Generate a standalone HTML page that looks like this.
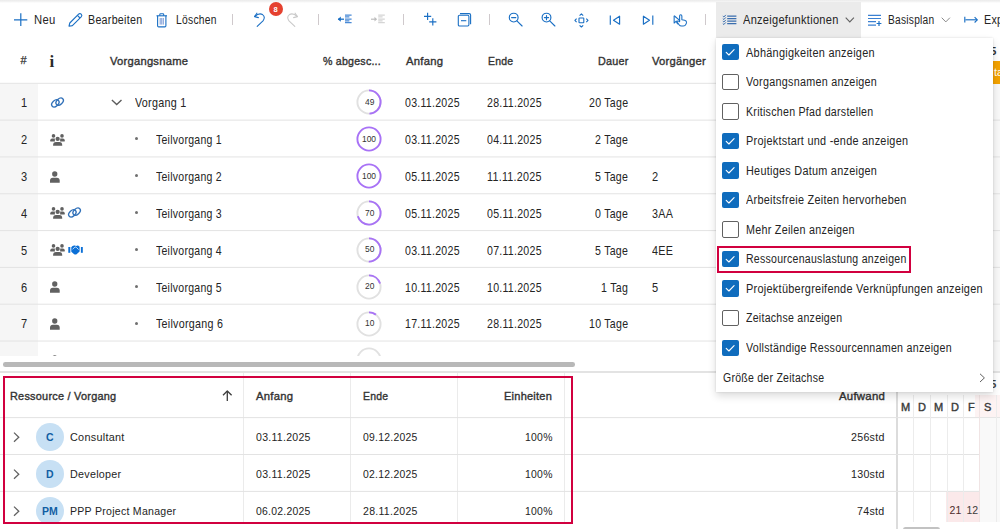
<!DOCTYPE html>
<html><head><meta charset="utf-8">
<style>
*{box-sizing:border-box;margin:0;padding:0}
html,body{width:1000px;height:529px;overflow:hidden;background:#fff}
body{position:relative;font-family:"Liberation Sans",sans-serif;color:#242424;font-size:11px}
.a{position:absolute}
.t{position:absolute;white-space:nowrap}
svg{position:absolute;overflow:visible}
</style></head><body>
<div class="a" style="left:0;top:0;width:1000px;height:3px;background:linear-gradient(#ebebeb,#f4f4f4 55%,#fff)"></div>
<svg style="left:14px;top:13px;" width="14" height="14" viewBox="0 0 14 14"><path d="M0 6.8H13.3M6.8 0.2V13" stroke="#1a6fc4" stroke-width="1.2" fill="none"/></svg>
<div class="t" style="top:11.71px;font-size:12px;line-height:16px;letter-spacing:0.3px;transform:scaleX(0.9375);transform-origin:0 0;left:34.10px;">Neu</div>
<svg style="left:68px;top:12.5px;" width="15" height="15" viewBox="0 0 15 15"><g fill="none" stroke="#1a6fc4" stroke-width="1.1" stroke-linejoin="round"><path d="M1 13.2L1.8 10 10.6 1.2A1.8 1.8 0 0 1 13.2 3.8L4.4 12.6Z"/><path d="M9.4 2.4L12 5"/></g></svg>
<div class="t" style="top:11.71px;font-size:12px;line-height:16px;letter-spacing:0.3px;transform:scaleX(0.8907);transform-origin:0 0;left:88.00px;">Bearbeiten</div>
<svg style="left:156px;top:12.5px;" width="12" height="15" viewBox="0 0 12 15"><g fill="none" stroke="#1a6fc4" stroke-width="1.1" stroke-linejoin="round"><path d="M0.5 2.8H11"/><path d="M3.8 2.8V1.6Q3.8 0.8 4.6 0.8H6.9Q7.7 0.8 7.7 1.6V2.8"/><path d="M1.6 2.8V12.8Q1.6 13.9 2.7 13.9H8.8Q9.9 13.9 9.9 12.8V2.8"/></g><g stroke="#6d8fd0" stroke-width="0.9"><path d="M4.2 5V11.6M5.75 5V11.6M7.3 5V11.6"/></g></svg>
<div class="t" style="top:11.71px;font-size:12px;line-height:16px;letter-spacing:0.3px;transform:scaleX(0.8587);transform-origin:0 0;left:176.00px;">Löschen</div>
<div class="a" style="left:232px;top:13.8px;width:1px;height:11.4px;background:#cfc9cc;"></div>
<div class="a" style="left:318px;top:13.8px;width:1px;height:11.4px;background:#cfc9cc;"></div>
<div class="a" style="left:403px;top:13.8px;width:1px;height:11.4px;background:#cfc9cc;"></div>
<div class="a" style="left:489px;top:13.8px;width:1px;height:11.4px;background:#cfc9cc;"></div>
<div class="a" style="left:705px;top:13.8px;width:1px;height:11.4px;background:#cfc9cc;"></div>
<svg style="left:253px;top:12px;" width="14" height="15" viewBox="0 0 14 15"><g fill="none" stroke="#1a6fc4" stroke-width="1.1" stroke-linecap="round" stroke-linejoin="round"><path d="M1.6 4.6L3.9 1.2M1.6 4.6L5.4 5.6"/><path d="M1.8 4.5Q6 0.6 9.5 2.6Q12.8 5 10 8.8L4.2 14.4"/></g></svg>
<div class="a" style="left:268.9px;top:1.8px;width:14px;height:14px;border-radius:50%;background:#e5412f"></div>
<div class="t" style="top:2.21px;font-size:7.5px;line-height:16px;font-weight:bold;color:#fff;left:273.60px;">8</div>
<svg style="left:285px;top:12px;" width="14" height="15" viewBox="0 0 14 15"><g fill="none" stroke="#c9c9c9" stroke-width="1.1" stroke-linecap="round" stroke-linejoin="round"><path d="M12.4 4.6L10.1 1.2M12.4 4.6L8.6 5.6"/><path d="M12.2 4.5Q8 0.6 4.5 2.6Q1.2 5 4 8.8L9.8 14.4"/></g></svg>
<svg style="left:337px;top:14px;" width="16" height="10" viewBox="0 0 16 10"><path d="M1 5.2H7" stroke="#1a6fc4" stroke-width="1.3"/><path d="M0.8 5.2L3.8 2.6V7.8Z" fill="#1a6fc4"/><g stroke="#4a8ad6" stroke-width="1.3"><path d="M8 1.2H14.6M8 2.8H12.4M8 5.2H14.6M8 6.9H12.4M8 8.6H14.6"/></g></svg>
<svg style="left:369.5px;top:14px;" width="16" height="10" viewBox="0 0 16 10"><path d="M1 5.2H6.3" stroke="#bdbdbd" stroke-width="1.2"/><path d="M7 5.2L4.5 2.8V7.6Z" fill="#bdbdbd"/><g stroke="#d5d5d5" stroke-width="1.3"><path d="M8.2 1.2H14.8M8.2 2.8H12.6M8.2 5.2H14.8M8.2 6.9H12.6M8.2 8.6H14.8"/></g></svg>
<svg style="left:423px;top:12px;" width="15" height="14" viewBox="0 0 15 14"><g stroke="#1a6fc4" stroke-width="1.15"><path d="M1 4.4H8.2M4.6 0.8V8"/><path d="M6.2 9.8H13.4M9.8 6.2V13.4"/></g></svg>
<svg style="left:456.5px;top:12.5px;" width="15" height="14" viewBox="0 0 15 14"><g fill="none" stroke="#1a6fc4" stroke-width="1.1"><rect x="1.3" y="2.2" width="10.6" height="10.8" rx="1.2"/><path d="M3 0.6H12.2Q13.6 0.6 13.6 2V11.2"/><path d="M4 7.7H9.3"/></g></svg>
<svg style="left:508px;top:12px;" width="16" height="16" viewBox="0 0 16 16"><g fill="none" stroke="#1a6fc4" stroke-width="1.15" stroke-linecap="round"><circle cx="5.7" cy="5.6" r="4.4"/><path d="M8.9 8.9L14.1 14"/><path d="M3.6 5.6H7.8"/></g></svg>
<svg style="left:541px;top:12px;" width="16" height="16" viewBox="0 0 16 16"><g fill="none" stroke="#1a6fc4" stroke-width="1.15" stroke-linecap="round"><circle cx="5.5" cy="5.6" r="4.4"/><path d="M8.7 8.9L13.9 14"/><path d="M3.4 5.6H7.6M5.5 3.5V7.7"/></g></svg>
<svg style="left:574px;top:12.5px;" width="15" height="15" viewBox="0 0 15 15"><g fill="none" stroke="#1a6fc4" stroke-width="1.1" stroke-linejoin="round"><rect x="5" y="5" width="4.8" height="4.8" rx="0.6"/><path d="M5.6 2.6L7.4 0.9 9.2 2.6M5.6 12.3L7.4 14 9.2 12.3M2.6 5.6L0.9 7.4 2.6 9.2M12.3 5.6L14 7.4 12.3 9.2"/></g></svg>
<svg style="left:608.5px;top:14.5px;" width="12" height="11" viewBox="0 0 12 11"><g fill="none" stroke="#1a6fc4" stroke-width="1.15" stroke-linejoin="round"><path d="M1.3 0.6V9.8"/><path d="M10.6 1.2V9.2L4.5 5.2Z"/></g></svg>
<svg style="left:641.5px;top:14.5px;" width="12" height="11" viewBox="0 0 12 11"><g fill="none" stroke="#1a6fc4" stroke-width="1.15" stroke-linejoin="round"><path d="M10.8 0.6V9.8"/><path d="M1.4 1.2V9.2L7.5 5.2Z"/></g></svg>
<svg style="left:672.5px;top:13.5px;" width="16" height="13" viewBox="0 0 16 13"><g transform="translate(0.4 0.4) scale(0.94)" fill="none" stroke="#1a6fc4" stroke-width="1.15" stroke-linejoin="round"><path d="M0.8 1.4V9.2L3 7.2 4.6 10.4"/><path d="M0.8 1.4L7 6.6"/><path d="M6.6 1.6Q6.6 0.4 7.8 0.4Q9 0.4 9 1.6V5.6L12 6.2Q14.2 6.7 14 8.8L13.4 10.4Q12.6 12.4 10.4 12.4H8.6Q7 12.4 6 11L4.2 8.4Q3.6 7.4 4.6 7 5.6 6.7 6.6 7.8Z"/></g></svg>
<div class="a" style="left:716px;top:2px;width:145px;height:35.6px;background:#ebebeb;"></div>
<svg style="left:722px;top:14px;" width="16" height="12" viewBox="0 0 16 12"><g stroke="#3a6eae" stroke-width="1.1" fill="none"><path d="M5.2 2.1H14.4M5.2 4.6H14.4M5.2 7.1H14.4M5.2 9.6H14.4"/><path d="M0.8 2.1L1.9 3 3.8 0.9M0.8 4.6L1.9 5.5 3.8 3.4M0.8 7.1L1.9 8 3.8 5.9M0.8 9.6L1.9 10.5 3.8 8.4" stroke-width="1"/></g></svg>
<div class="t" style="top:11.71px;font-size:12px;line-height:16px;letter-spacing:0.3px;transform:scaleX(0.9205);transform-origin:0 0;left:742.80px;">Anzeigefunktionen</div>
<svg style="left:845px;top:16.5px;" width="10" height="6" viewBox="0 0 10 6"><path d="M0.7 0.7L4.8 4.9 8.9 0.7" fill="none" stroke="#616161" stroke-width="1.1"/></svg>
<svg style="left:867px;top:14px;" width="16" height="13" viewBox="0 0 16 13"><g stroke="#3a80d2" stroke-width="1.2"><path d="M1 1.3H14M1 4.5H14M1 7.6H9M1 11.2H9"/><path d="M9.6 9.5H14.4M12 7.1V11.9" stroke="#1a6fc4"/></g></svg>
<div class="t" style="top:11.71px;font-size:12px;line-height:16px;letter-spacing:0.3px;transform:scaleX(0.8488);transform-origin:0 0;left:888.00px;">Basisplan</div>
<svg style="left:940.5px;top:16.5px;" width="10" height="6" viewBox="0 0 10 6"><path d="M0.7 0.7L4.8 4.9 8.9 0.7" fill="none" stroke="#8a8a8a" stroke-width="1"/></svg>
<svg style="left:963.5px;top:15.5px;" width="15" height="8" viewBox="0 0 15 8"><g fill="none" stroke="#1a6fc4" stroke-width="1.15"><path d="M0.8 0.8V6.6"/><path d="M1.4 3.8H13.2"/><path d="M10.6 1.1L13.3 3.8 10.6 6.5" stroke-linejoin="round"/></g></svg>
<div class="t" style="top:11.71px;font-size:12px;line-height:16px;letter-spacing:0.3px;transform:scaleX(0.8914);transform-origin:0 0;left:984.30px;">Export</div>
<div class="t" style="top:52.21px;font-size:11px;line-height:16px;color:#333;left:20.60px;-webkit-text-stroke:0.25px #333;">#</div>
<div class="t" style="left:49.5px;top:54.4px;font-family:'Liberation Serif',serif;font-weight:bold;font-size:17px;line-height:16px;color:#2b2b2b">i</div>
<div class="t" style="top:52.61px;font-size:11.7px;line-height:16px;color:#333333;-webkit-text-stroke:0.38px #333333;letter-spacing:0.25px;transform:scaleX(0.9576);transform-origin:0 0;left:109.50px;">Vorgangsname</div>
<div class="t" style="top:52.61px;font-size:11.7px;line-height:16px;color:#333333;-webkit-text-stroke:0.38px #333333;letter-spacing:0.25px;transform:scaleX(0.9084);transform-origin:0 0;left:323.20px;">% abgesc...</div>
<div class="t" style="top:52.61px;font-size:11.7px;line-height:16px;color:#333333;-webkit-text-stroke:0.38px #333333;letter-spacing:0.25px;transform:scaleX(0.9653);transform-origin:0 0;left:405.70px;">Anfang</div>
<div class="t" style="top:52.61px;font-size:11.7px;line-height:16px;color:#333333;-webkit-text-stroke:0.38px #333333;letter-spacing:0.25px;transform:scaleX(0.8941);transform-origin:0 0;left:487.80px;">Ende</div>
<div class="t" style="top:52.61px;font-size:11.7px;line-height:16px;color:#333333;-webkit-text-stroke:0.38px #333333;letter-spacing:0.25px;transform:scaleX(0.9250);transform-origin:0 0;left:597.90px;">Dauer</div>
<div class="t" style="top:52.61px;font-size:11.7px;line-height:16px;color:#333333;-webkit-text-stroke:0.38px #333333;letter-spacing:0.25px;transform:scaleX(0.9627);transform-origin:0 0;left:652.10px;">Vorgänger</div>
<div class="a" style="left:0px;top:84px;width:38px;height:271.5px;background:#f6f6f6;"></div>
<svg style="left:0;top:0" width="1000" height="529"><rect x="0" y="82.80" width="1000" height="1" fill="#e3e3e3"/><rect x="0" y="119.62" width="1000" height="1" fill="#e3e3e3"/><rect x="0" y="156.44" width="1000" height="1" fill="#e3e3e3"/><rect x="0" y="193.26" width="1000" height="1" fill="#e3e3e3"/><rect x="0" y="230.08" width="1000" height="1" fill="#e3e3e3"/><rect x="0" y="266.90" width="1000" height="1" fill="#e3e3e3"/><rect x="0" y="303.72" width="1000" height="1" fill="#e3e3e3"/><rect x="0" y="340.54" width="1000" height="1" fill="#e3e3e3"/></svg>
<div class="t" style="top:95.16px;font-size:12.2px;line-height:16px;transform:scaleX(0.9050);transform-origin:0 0;left:20.86px;">1</div>
<svg style="left:49.0px;top:93.85000000000001px;" width="17" height="16" viewBox="0 0 17 16"><g fill="none" stroke="#3070b8" stroke-width="1.35"><ellipse cx="0" cy="0" rx="4.25" ry="2.8" transform="translate(6.35 9.35) rotate(-43)"/><ellipse cx="0" cy="0" rx="4.25" ry="2.8" transform="translate(10.65 7.65) rotate(-43)"/></g></svg>
<svg style="left:111px;top:99.25000000000001px;" width="12" height="8" viewBox="0 0 12 8"><path d="M0.9 0.9L5.7 5.6 10.5 0.9" fill="none" stroke="#5c5c5c" stroke-width="1.35"/></svg>
<div class="t" style="top:95.16px;font-size:12.2px;line-height:16px;letter-spacing:0.3px;transform:scaleX(0.8841);transform-origin:0 0;left:135.30px;">Vorgang 1</div>
<svg style="left:356.4px;top:89.35000000000001px;" width="26" height="26" viewBox="0 0 26 26"><circle cx="13" cy="13" r="11.6" fill="none" stroke="#e1e1e1" stroke-width="1.9"/><circle cx="13" cy="13" r="11.6" fill="none" stroke="#a872f6" stroke-width="1.9" stroke-dasharray="35.71 72.88" transform="rotate(-90 13 13)"/></svg>
<div class="t" style="top:93.96px;font-size:9.8px;line-height:16px;color:#333;transform:scaleX(0.8600);transform-origin:0 0;left:364.61px;">49</div>
<div class="t" style="top:95.16px;font-size:12.2px;line-height:16px;letter-spacing:0.3px;transform:scaleX(0.8688);transform-origin:0 0;left:405.00px;">03.11.2025</div>
<div class="t" style="top:95.16px;font-size:12.2px;line-height:16px;letter-spacing:0.3px;transform:scaleX(0.8688);transform-origin:0 0;left:487.40px;">28.11.2025</div>
<div class="t" style="top:95.16px;font-size:12.2px;line-height:16px;letter-spacing:0.3px;transform:scaleX(0.8688);transform-origin:0 0;left:589.21px;">20 Tage</div>
<div class="t" style="top:132.03px;font-size:12.2px;line-height:16px;transform:scaleX(0.9050);transform-origin:0 0;left:20.86px;">2</div>
<svg style="left:49.8px;top:133.72px;" width="15" height="12" viewBox="0 0 15 12"><g fill="#616161"><circle cx="3.5" cy="1.9" r="1.8"/><circle cx="12" cy="1.9" r="1.8"/><path d="M0.3 7.5V6.3Q0.3 4.5 2.1 4.5H4.9V7.5Z"/><path d="M14.7 7.5V6.3Q14.7 4.5 12.9 4.5H10.1V7.5Z"/></g><g fill="#616161" stroke="#fff" stroke-width="0.7" paint-order="stroke"><path d="M3.1 11.7V11Q3.1 8.1 6 8.1H9.3Q12.2 8.1 12.2 11V11.7Z"/><circle cx="7.65" cy="4.9" r="2.15"/></g></svg>
<div class="a" style="left:134.6px;top:137.2px;width:3px;height:3px;border-radius:50%;background:#707070"></div>
<div class="t" style="top:132.03px;font-size:12.2px;line-height:16px;letter-spacing:0.3px;transform:scaleX(0.8626);transform-origin:0 0;left:155.60px;">Teilvorgang 1</div>
<svg style="left:356.4px;top:126.22px;" width="26" height="26" viewBox="0 0 26 26"><circle cx="13" cy="13" r="11.6" fill="none" stroke="#a872f6" stroke-width="1.9"/></svg>
<div class="t" style="top:130.83px;font-size:9.8px;line-height:16px;color:#333;transform:scaleX(0.8600);transform-origin:0 0;left:362.27px;">100</div>
<div class="t" style="top:132.03px;font-size:12.2px;line-height:16px;letter-spacing:0.3px;transform:scaleX(0.8688);transform-origin:0 0;left:405.00px;">03.11.2025</div>
<div class="t" style="top:132.03px;font-size:12.2px;line-height:16px;letter-spacing:0.3px;transform:scaleX(0.8688);transform-origin:0 0;left:487.40px;">04.11.2025</div>
<div class="t" style="top:132.03px;font-size:12.2px;line-height:16px;letter-spacing:0.3px;transform:scaleX(0.8692);transform-origin:0 0;left:595.35px;">2 Tage</div>
<div class="t" style="top:168.90px;font-size:12.2px;line-height:16px;transform:scaleX(0.9050);transform-origin:0 0;left:20.86px;">3</div>
<svg style="left:50.4px;top:170.58999999999997px;" width="11" height="12" viewBox="0 0 11 12"><g fill="#616161"><circle cx="4.75" cy="3" r="2.65"/><path d="M0 11.7V9.6Q0 6.7 2.9 6.7H6.8Q9.7 6.7 9.7 9.6V11.7Z"/></g></svg>
<div class="a" style="left:134.6px;top:174.1px;width:3px;height:3px;border-radius:50%;background:#707070"></div>
<div class="t" style="top:168.90px;font-size:12.2px;line-height:16px;letter-spacing:0.3px;transform:scaleX(0.8626);transform-origin:0 0;left:155.60px;">Teilvorgang 2</div>
<svg style="left:356.4px;top:163.08999999999997px;" width="26" height="26" viewBox="0 0 26 26"><circle cx="13" cy="13" r="11.6" fill="none" stroke="#a872f6" stroke-width="1.9"/></svg>
<div class="t" style="top:167.70px;font-size:9.8px;line-height:16px;color:#333;transform:scaleX(0.8600);transform-origin:0 0;left:362.27px;">100</div>
<div class="t" style="top:168.90px;font-size:12.2px;line-height:16px;letter-spacing:0.3px;transform:scaleX(0.8688);transform-origin:0 0;left:405.00px;">05.11.2025</div>
<div class="t" style="top:168.90px;font-size:12.2px;line-height:16px;letter-spacing:0.3px;transform:scaleX(0.8815);transform-origin:0 0;left:487.40px;">11.11.2025</div>
<div class="t" style="top:168.90px;font-size:12.2px;line-height:16px;letter-spacing:0.3px;transform:scaleX(0.8692);transform-origin:0 0;left:595.35px;">5 Tage</div>
<div class="t" style="top:168.90px;font-size:12.2px;line-height:16px;transform:scaleX(0.9050);transform-origin:0 0;left:652.00px;">2</div>
<div class="t" style="top:205.77px;font-size:12.2px;line-height:16px;transform:scaleX(0.9050);transform-origin:0 0;left:20.86px;">4</div>
<svg style="left:49.8px;top:207.45999999999998px;" width="15" height="12" viewBox="0 0 15 12"><g fill="#616161"><circle cx="3.5" cy="1.9" r="1.8"/><circle cx="12" cy="1.9" r="1.8"/><path d="M0.3 7.5V6.3Q0.3 4.5 2.1 4.5H4.9V7.5Z"/><path d="M14.7 7.5V6.3Q14.7 4.5 12.9 4.5H10.1V7.5Z"/></g><g fill="#616161" stroke="#fff" stroke-width="0.7" paint-order="stroke"><path d="M3.1 11.7V11Q3.1 8.1 6 8.1H9.3Q12.2 8.1 12.2 11V11.7Z"/><circle cx="7.65" cy="4.9" r="2.15"/></g></svg>
<svg style="left:66.2px;top:204.45999999999998px;" width="17" height="16" viewBox="0 0 17 16"><g fill="none" stroke="#3070b8" stroke-width="1.35"><ellipse cx="0" cy="0" rx="4.25" ry="2.8" transform="translate(6.35 9.35) rotate(-43)"/><ellipse cx="0" cy="0" rx="4.25" ry="2.8" transform="translate(10.65 7.65) rotate(-43)"/></g></svg>
<div class="a" style="left:134.6px;top:211.0px;width:3px;height:3px;border-radius:50%;background:#707070"></div>
<div class="t" style="top:205.77px;font-size:12.2px;line-height:16px;letter-spacing:0.3px;transform:scaleX(0.8626);transform-origin:0 0;left:155.60px;">Teilvorgang 3</div>
<svg style="left:356.4px;top:199.95999999999998px;" width="26" height="26" viewBox="0 0 26 26"><circle cx="13" cy="13" r="11.6" fill="none" stroke="#e1e1e1" stroke-width="1.9"/><circle cx="13" cy="13" r="11.6" fill="none" stroke="#a872f6" stroke-width="1.9" stroke-dasharray="51.02 72.88" transform="rotate(-90 13 13)"/></svg>
<div class="t" style="top:204.57px;font-size:9.8px;line-height:16px;color:#333;transform:scaleX(0.8600);transform-origin:0 0;left:364.61px;">70</div>
<div class="t" style="top:205.77px;font-size:12.2px;line-height:16px;letter-spacing:0.3px;transform:scaleX(0.8688);transform-origin:0 0;left:405.00px;">05.11.2025</div>
<div class="t" style="top:205.77px;font-size:12.2px;line-height:16px;letter-spacing:0.3px;transform:scaleX(0.8688);transform-origin:0 0;left:487.40px;">05.11.2025</div>
<div class="t" style="top:205.77px;font-size:12.2px;line-height:16px;letter-spacing:0.3px;transform:scaleX(0.8692);transform-origin:0 0;left:595.35px;">0 Tage</div>
<div class="t" style="top:205.77px;font-size:12.2px;line-height:16px;letter-spacing:0.3px;transform:scaleX(0.8820);transform-origin:0 0;left:652.00px;">3AA</div>
<div class="t" style="top:242.64px;font-size:12.2px;line-height:16px;transform:scaleX(0.9050);transform-origin:0 0;left:20.86px;">5</div>
<svg style="left:49.8px;top:244.32999999999998px;" width="15" height="12" viewBox="0 0 15 12"><g fill="#616161"><circle cx="3.5" cy="1.9" r="1.8"/><circle cx="12" cy="1.9" r="1.8"/><path d="M0.3 7.5V6.3Q0.3 4.5 2.1 4.5H4.9V7.5Z"/><path d="M14.7 7.5V6.3Q14.7 4.5 12.9 4.5H10.1V7.5Z"/></g><g fill="#616161" stroke="#fff" stroke-width="0.7" paint-order="stroke"><path d="M3.1 11.7V11Q3.1 8.1 6 8.1H9.3Q12.2 8.1 12.2 11V11.7Z"/><circle cx="7.65" cy="4.9" r="2.15"/></g></svg>
<svg style="left:67.8px;top:245.32999999999998px;" width="15" height="10" viewBox="0 0 15 10"><g fill="#0b6fd6"><rect x="0.3" y="2" width="2" height="5.8"/><rect x="12.9" y="2" width="1.9" height="5.8"/><path d="M3.3 2.2Q4.6 0.2 6.8 0.6L8.2 0.9Q9.9 -0.2 11.6 1.8V6.6L8.6 9.2Q7.4 10 6.2 9.2L3.3 6.8Z"/></g><path d="M4.6 4.2L6.9 2.2Q7.6 1.7 8.4 2.4L10.6 4.6" fill="none" stroke="#fff" stroke-width="0.75"/></svg>
<div class="a" style="left:134.6px;top:247.8px;width:3px;height:3px;border-radius:50%;background:#707070"></div>
<div class="t" style="top:242.64px;font-size:12.2px;line-height:16px;letter-spacing:0.3px;transform:scaleX(0.8626);transform-origin:0 0;left:155.60px;">Teilvorgang 4</div>
<svg style="left:356.4px;top:236.82999999999998px;" width="26" height="26" viewBox="0 0 26 26"><circle cx="13" cy="13" r="11.6" fill="none" stroke="#e1e1e1" stroke-width="1.9"/><circle cx="13" cy="13" r="11.6" fill="none" stroke="#a872f6" stroke-width="1.9" stroke-dasharray="36.44 72.88" transform="rotate(-90 13 13)"/></svg>
<div class="t" style="top:241.44px;font-size:9.8px;line-height:16px;color:#333;transform:scaleX(0.8600);transform-origin:0 0;left:364.61px;">50</div>
<div class="t" style="top:242.64px;font-size:12.2px;line-height:16px;letter-spacing:0.3px;transform:scaleX(0.8688);transform-origin:0 0;left:405.00px;">03.11.2025</div>
<div class="t" style="top:242.64px;font-size:12.2px;line-height:16px;letter-spacing:0.3px;transform:scaleX(0.8688);transform-origin:0 0;left:487.40px;">07.11.2025</div>
<div class="t" style="top:242.64px;font-size:12.2px;line-height:16px;letter-spacing:0.3px;transform:scaleX(0.8692);transform-origin:0 0;left:595.35px;">5 Tage</div>
<div class="t" style="top:242.64px;font-size:12.2px;line-height:16px;letter-spacing:0.3px;transform:scaleX(0.8820);transform-origin:0 0;left:652.00px;">4EE</div>
<div class="t" style="top:279.51px;font-size:12.2px;line-height:16px;transform:scaleX(0.9050);transform-origin:0 0;left:20.86px;">6</div>
<svg style="left:50.4px;top:281.2px;" width="11" height="12" viewBox="0 0 11 12"><g fill="#616161"><circle cx="4.75" cy="3" r="2.65"/><path d="M0 11.7V9.6Q0 6.7 2.9 6.7H6.8Q9.7 6.7 9.7 9.6V11.7Z"/></g></svg>
<div class="a" style="left:134.6px;top:284.7px;width:3px;height:3px;border-radius:50%;background:#707070"></div>
<div class="t" style="top:279.51px;font-size:12.2px;line-height:16px;letter-spacing:0.3px;transform:scaleX(0.8626);transform-origin:0 0;left:155.60px;">Teilvorgang 5</div>
<svg style="left:356.4px;top:273.7px;" width="26" height="26" viewBox="0 0 26 26"><circle cx="13" cy="13" r="11.6" fill="none" stroke="#e1e1e1" stroke-width="1.9"/><circle cx="13" cy="13" r="11.6" fill="none" stroke="#a872f6" stroke-width="1.9" stroke-dasharray="14.58 72.88" transform="rotate(-90 13 13)"/></svg>
<div class="t" style="top:278.31px;font-size:9.8px;line-height:16px;color:#333;transform:scaleX(0.8600);transform-origin:0 0;left:364.61px;">20</div>
<div class="t" style="top:279.51px;font-size:12.2px;line-height:16px;letter-spacing:0.3px;transform:scaleX(0.8688);transform-origin:0 0;left:405.00px;">10.11.2025</div>
<div class="t" style="top:279.51px;font-size:12.2px;line-height:16px;letter-spacing:0.3px;transform:scaleX(0.8688);transform-origin:0 0;left:487.40px;">10.11.2025</div>
<div class="t" style="top:279.51px;font-size:12.2px;line-height:16px;letter-spacing:0.3px;transform:scaleX(0.8698);transform-origin:0 0;left:601.49px;">1 Tag</div>
<div class="t" style="top:279.51px;font-size:12.2px;line-height:16px;transform:scaleX(0.9050);transform-origin:0 0;left:652.00px;">5</div>
<div class="t" style="top:316.38px;font-size:12.2px;line-height:16px;transform:scaleX(0.9050);transform-origin:0 0;left:20.86px;">7</div>
<svg style="left:50.4px;top:318.07px;" width="11" height="12" viewBox="0 0 11 12"><g fill="#616161"><circle cx="4.75" cy="3" r="2.65"/><path d="M0 11.7V9.6Q0 6.7 2.9 6.7H6.8Q9.7 6.7 9.7 9.6V11.7Z"/></g></svg>
<div class="a" style="left:134.6px;top:321.6px;width:3px;height:3px;border-radius:50%;background:#707070"></div>
<div class="t" style="top:316.38px;font-size:12.2px;line-height:16px;letter-spacing:0.3px;transform:scaleX(0.8784);transform-origin:0 0;left:155.60px;">Teilvorgang 6</div>
<svg style="left:356.4px;top:310.57px;" width="26" height="26" viewBox="0 0 26 26"><circle cx="13" cy="13" r="11.6" fill="none" stroke="#e1e1e1" stroke-width="1.9"/><circle cx="13" cy="13" r="11.6" fill="none" stroke="#a872f6" stroke-width="1.9" stroke-dasharray="7.29 72.88" transform="rotate(-90 13 13)"/></svg>
<div class="t" style="top:315.18px;font-size:9.8px;line-height:16px;color:#333;transform:scaleX(0.8600);transform-origin:0 0;left:364.61px;">10</div>
<div class="t" style="top:316.38px;font-size:12.2px;line-height:16px;letter-spacing:0.3px;transform:scaleX(0.8688);transform-origin:0 0;left:405.00px;">17.11.2025</div>
<div class="t" style="top:316.38px;font-size:12.2px;line-height:16px;letter-spacing:0.3px;transform:scaleX(0.8688);transform-origin:0 0;left:487.40px;">28.11.2025</div>
<div class="t" style="top:316.38px;font-size:12.2px;line-height:16px;letter-spacing:0.3px;transform:scaleX(0.8688);transform-origin:0 0;left:589.21px;">10 Tage</div>
<div class="a" style="left:0;top:342px;width:716px;height:13.5px;overflow:hidden">
<svg style="left:356.4px;top:5.439999999999998px;" width="26" height="26" viewBox="0 0 26 26"><circle cx="13" cy="13" r="11.6" fill="none" stroke="#e1e1e1" stroke-width="1.9"/></svg>
<svg style="left:50.4px;top:12.939999999999998px;" width="11" height="12" viewBox="0 0 11 12"><g fill="#616161"><circle cx="4.75" cy="3" r="2.65"/><path d="M0 11.7V9.6Q0 6.7 2.9 6.7H6.8Q9.7 6.7 9.7 9.6V11.7Z"/></g></svg>
</div>
<div class="a" style="left:3px;top:362px;width:572px;height:4.6px;border-radius:2.3px;background:#b8b8b8"></div>
<div class="a" style="left:0px;top:371px;width:1000px;height:2px;background:#e3e3e3;"></div>
<div class="a" style="left:243px;top:373px;width:1px;height:148.5px;background:#ebebeb;"></div>
<div class="a" style="left:350px;top:373px;width:1px;height:148.5px;background:#ebebeb;"></div>
<div class="a" style="left:457px;top:373px;width:1px;height:148.5px;background:#ebebeb;"></div>
<div class="a" style="left:564px;top:373px;width:1px;height:148.5px;background:#ebebeb;"></div>
<div class="a" style="left:896px;top:373px;width:2px;height:156px;background:#dcdcdc;"></div>
<svg style="left:0;top:0" width="1000" height="529"><rect x="0" y="417.10" width="1000" height="1" fill="#e3e3e3"/><rect x="0" y="454.00" width="1000" height="1" fill="#e3e3e3"/><rect x="0" y="490.90" width="1000" height="1" fill="#e3e3e3"/></svg>
<div class="t" style="top:387.61px;font-size:11.7px;line-height:16px;color:#333333;-webkit-text-stroke:0.38px #333333;letter-spacing:0.25px;transform:scaleX(0.9336);transform-origin:0 0;left:9.80px;">Ressource / Vorgang</div>
<svg style="left:221.5px;top:389.5px;" width="11" height="11.5" viewBox="0 0 11 11.5"><g fill="none" stroke="#3d3d3d" stroke-width="1.3"><path d="M5.3 1V11"/><path d="M1 5.2L5.3 1 9.6 5.2" stroke-linejoin="round"/></g></svg>
<div class="t" style="top:387.61px;font-size:11.7px;line-height:16px;color:#333333;-webkit-text-stroke:0.38px #333333;letter-spacing:0.25px;transform:scaleX(0.9653);transform-origin:0 0;left:255.80px;">Anfang</div>
<div class="t" style="top:387.61px;font-size:11.7px;line-height:16px;color:#333333;-webkit-text-stroke:0.38px #333333;letter-spacing:0.25px;transform:scaleX(0.8941);transform-origin:0 0;left:362.80px;">Ende</div>
<div class="t" style="top:387.61px;font-size:11.7px;line-height:16px;color:#333333;-webkit-text-stroke:0.38px #333333;letter-spacing:0.25px;transform:scaleX(0.9432);transform-origin:0 0;left:504.00px;">Einheiten</div>
<div class="t" style="top:387.61px;font-size:11.7px;line-height:16px;color:#333333;-webkit-text-stroke:0.38px #333333;letter-spacing:0.25px;transform:scaleX(0.9760);transform-origin:0 0;left:838.70px;">Aufwand</div>
<svg style="left:12.8px;top:432.0px;" width="8" height="11" viewBox="0 0 8 11"><path d="M1 0.6L5.8 5.2 1 9.8" fill="none" stroke="#616161" stroke-width="1.25"/></svg>
<div class="a" style="left:35.7px;top:422.7px;width:28.3px;height:28.3px;border-radius:50%;background:#c7e0f4"></div>
<div class="t" style="top:428.81px;font-size:10.5px;line-height:16px;font-weight:bold;color:#115ea3;left:46.06px;">C</div>
<div class="t" style="top:429.01px;font-size:11.8px;line-height:16px;letter-spacing:0.3px;transform:scaleX(0.9203);transform-origin:0 0;left:69.60px;">Consultant</div>
<div class="t" style="top:429.01px;font-size:11.8px;line-height:16px;letter-spacing:0.3px;transform:scaleX(0.8936);transform-origin:0 0;left:255.80px;">03.11.2025</div>
<div class="t" style="top:429.01px;font-size:11.8px;line-height:16px;letter-spacing:0.3px;transform:scaleX(0.8809);transform-origin:0 0;left:362.80px;">09.12.2025</div>
<div class="t" style="top:429.01px;font-size:11.8px;line-height:16px;letter-spacing:0.3px;transform:scaleX(0.8816);transform-origin:0 0;left:524.50px;">100%</div>
<div class="t" style="top:429.01px;font-size:11.8px;line-height:16px;letter-spacing:0.3px;transform:scaleX(0.9045);transform-origin:0 0;left:851.20px;">256std</div>
<svg style="left:12.8px;top:468.9px;" width="8" height="11" viewBox="0 0 8 11"><path d="M1 0.6L5.8 5.2 1 9.8" fill="none" stroke="#616161" stroke-width="1.25"/></svg>
<div class="a" style="left:35.7px;top:459.6px;width:28.3px;height:28.3px;border-radius:50%;background:#c7e0f4"></div>
<div class="t" style="top:465.71px;font-size:10.5px;line-height:16px;font-weight:bold;color:#115ea3;left:46.06px;">D</div>
<div class="t" style="top:465.91px;font-size:11.8px;line-height:16px;letter-spacing:0.3px;transform:scaleX(0.9113);transform-origin:0 0;left:69.60px;">Developer</div>
<div class="t" style="top:465.91px;font-size:11.8px;line-height:16px;letter-spacing:0.3px;transform:scaleX(0.8936);transform-origin:0 0;left:255.80px;">03.11.2025</div>
<div class="t" style="top:465.91px;font-size:11.8px;line-height:16px;letter-spacing:0.3px;transform:scaleX(0.8809);transform-origin:0 0;left:362.80px;">02.12.2025</div>
<div class="t" style="top:465.91px;font-size:11.8px;line-height:16px;letter-spacing:0.3px;transform:scaleX(0.8816);transform-origin:0 0;left:524.50px;">100%</div>
<div class="t" style="top:465.91px;font-size:11.8px;line-height:16px;letter-spacing:0.3px;transform:scaleX(0.9045);transform-origin:0 0;left:851.20px;">130std</div>
<svg style="left:12.8px;top:505.8px;" width="8" height="11" viewBox="0 0 8 11"><path d="M1 0.6L5.8 5.2 1 9.8" fill="none" stroke="#616161" stroke-width="1.25"/></svg>
<div class="a" style="left:35.7px;top:496.5px;width:28.3px;height:28.3px;border-radius:50%;background:#c7e0f4"></div>
<div class="t" style="top:502.61px;font-size:10.5px;line-height:16px;font-weight:bold;color:#115ea3;left:41.98px;">PM</div>
<div class="t" style="top:502.81px;font-size:11.8px;line-height:16px;letter-spacing:0.3px;transform:scaleX(0.8943);transform-origin:0 0;left:69.60px;">PPP Project Manager</div>
<div class="t" style="top:502.81px;font-size:11.8px;line-height:16px;letter-spacing:0.3px;transform:scaleX(0.8809);transform-origin:0 0;left:255.80px;">06.02.2025</div>
<div class="t" style="top:502.81px;font-size:11.8px;line-height:16px;letter-spacing:0.3px;transform:scaleX(0.8936);transform-origin:0 0;left:362.80px;">28.11.2025</div>
<div class="t" style="top:502.81px;font-size:11.8px;line-height:16px;letter-spacing:0.3px;transform:scaleX(0.8816);transform-origin:0 0;left:524.50px;">100%</div>
<div class="t" style="top:502.81px;font-size:11.8px;line-height:16px;letter-spacing:0.3px;transform:scaleX(0.9052);transform-origin:0 0;left:857.39px;">74std</div>
<div class="a" style="left:0px;top:521.5px;width:896px;height:8px;background:#fff;"></div>
<div class="a" style="left:975px;top:395px;width:25px;height:22px;background:#fdf3f3;"></div>
<div class="a" style="left:979.5px;top:418px;width:20.5px;height:103.5px;background:#f9f9f9;"></div>
<div class="a" style="left:946.3px;top:492px;width:33.5px;height:29.7px;background:#fbe9ea;"></div>
<div class="a" style="left:913px;top:395px;width:1px;height:126.5px;background:#ececec;"></div>
<div class="a" style="left:930px;top:395px;width:1px;height:126.5px;background:#ececec;"></div>
<div class="a" style="left:947px;top:395px;width:1px;height:126.5px;background:#ececec;"></div>
<div class="a" style="left:963px;top:395px;width:1px;height:126.5px;background:#ececec;"></div>
<div class="a" style="left:979px;top:395px;width:1px;height:126.5px;background:#f0e4e4;"></div>
<div class="a" style="left:996px;top:395px;width:1px;height:126.5px;background:#ececec;"></div>
<div class="t" style="top:398.91px;font-size:10.5px;line-height:16px;color:#3a3a3a;-webkit-text-stroke:0.38px #3a3a3a;transform:scaleX(1.0500);transform-origin:0 0;left:901.13px;">M</div>
<div class="t" style="top:398.91px;font-size:10.5px;line-height:16px;color:#3a3a3a;-webkit-text-stroke:0.38px #3a3a3a;transform:scaleX(1.0500);transform-origin:0 0;left:918.19px;">D</div>
<div class="t" style="top:398.91px;font-size:10.5px;line-height:16px;color:#3a3a3a;-webkit-text-stroke:0.38px #3a3a3a;transform:scaleX(1.0500);transform-origin:0 0;left:934.03px;">M</div>
<div class="t" style="top:398.91px;font-size:10.5px;line-height:16px;color:#3a3a3a;-webkit-text-stroke:0.38px #3a3a3a;transform:scaleX(1.0500);transform-origin:0 0;left:951.09px;">D</div>
<div class="t" style="top:398.91px;font-size:10.5px;line-height:16px;color:#3a3a3a;-webkit-text-stroke:0.38px #3a3a3a;transform:scaleX(1.0500);transform-origin:0 0;left:968.16px;">F</div>
<div class="t" style="top:398.91px;font-size:10.5px;line-height:16px;color:#3a3a3a;-webkit-text-stroke:0.38px #3a3a3a;transform:scaleX(1.0500);transform-origin:0 0;left:984.30px;">S</div>
<div class="t" style="top:398.91px;font-size:10.5px;line-height:16px;color:#3a3a3a;-webkit-text-stroke:0.38px #3a3a3a;transform:scaleX(1.0500);transform-origin:0 0;left:1000.75px;">S</div>
<div class="t" style="top:502.01px;font-size:10.5px;line-height:16px;color:#4d2c2c;left:949.60px;">21</div>
<div class="t" style="top:502.01px;font-size:10.5px;line-height:16px;color:#3c3c3c;left:966.50px;">12</div>
<div class="a" style="left:903px;top:526.8px;width:36.5px;height:5px;border-radius:2.5px;background:#c2c2c2"></div>
<div class="a" style="left:993px;top:84px;width:7px;height:287px;background:#f9f9f9;"></div>
<svg style="left:0;top:0" width="1000" height="529"><rect x="993" y="119.62" width="7" height="1" fill="#e3e3e3"/><rect x="993" y="156.44" width="7" height="1" fill="#e3e3e3"/><rect x="993" y="193.26" width="7" height="1" fill="#e3e3e3"/><rect x="993" y="230.08" width="7" height="1" fill="#e3e3e3"/><rect x="993" y="266.90" width="7" height="1" fill="#e3e3e3"/><rect x="993" y="303.72" width="7" height="1" fill="#e3e3e3"/><rect x="993" y="340.54" width="7" height="1" fill="#e3e3e3"/></svg>
<div class="a" style="left:993px;top:61px;width:7px;height:23px;background:#f4a300;"></div>
<div class="t" style="top:64.01px;font-size:11px;line-height:16px;color:#fff;left:994.00px;">ta</div>
<div class="t" style="top:42.51px;font-size:11px;line-height:16px;font-weight:bold;color:#333;left:990.30px;">5</div>
<div class="t" style="top:375.51px;font-size:11px;line-height:16px;font-weight:bold;color:#444;left:990.30px;">5</div>
<div class="a" style="left:716px;top:37.6px;width:277px;height:354.2px;background:#fff;box-shadow:0 0 2px rgba(0,0,0,.12),0 4px 8px rgba(0,0,0,.14)"></div>
<div class="a" style="left:722.4px;top:44.30px;width:16.2px;height:16.2px;border-radius:2px;background:#0f6cbd"></div>
<svg style="left:722.4px;top:44.3px;" width="16" height="16" viewBox="0 0 16 16"><path d="M4.2 8.4L6.9 11 12.1 5.6" fill="none" stroke="#fff" stroke-width="1.1" stroke-linecap="round" stroke-linejoin="round"/></svg>
<div class="t" style="top:44.81px;font-size:12px;line-height:16px;letter-spacing:0.3px;transform:scaleX(0.9097);transform-origin:0 0;left:746.00px;">Abhängigkeiten anzeigen</div>
<div class="a" style="left:722.4px;top:73.82px;width:16.2px;height:16.2px;border-radius:2px;border:1px solid #616161;background:#fff"></div>
<div class="t" style="top:74.33px;font-size:12px;line-height:16px;letter-spacing:0.3px;transform:scaleX(0.8975);transform-origin:0 0;left:746.00px;">Vorgangsnamen anzeigen</div>
<div class="a" style="left:722.4px;top:103.34px;width:16.2px;height:16.2px;border-radius:2px;border:1px solid #616161;background:#fff"></div>
<div class="t" style="top:103.85px;font-size:12px;line-height:16px;letter-spacing:0.3px;transform:scaleX(0.8853);transform-origin:0 0;left:746.00px;">Kritischen Pfad darstellen</div>
<div class="a" style="left:722.4px;top:132.86px;width:16.2px;height:16.2px;border-radius:2px;background:#0f6cbd"></div>
<svg style="left:722.4px;top:132.86px;" width="16" height="16" viewBox="0 0 16 16"><path d="M4.2 8.4L6.9 11 12.1 5.6" fill="none" stroke="#fff" stroke-width="1.1" stroke-linecap="round" stroke-linejoin="round"/></svg>
<div class="t" style="top:133.37px;font-size:12px;line-height:16px;letter-spacing:0.3px;transform:scaleX(0.9045);transform-origin:0 0;left:746.00px;">Projektstart und -ende anzeigen</div>
<div class="a" style="left:722.4px;top:162.38px;width:16.2px;height:16.2px;border-radius:2px;background:#0f6cbd"></div>
<svg style="left:722.4px;top:162.38px;" width="16" height="16" viewBox="0 0 16 16"><path d="M4.2 8.4L6.9 11 12.1 5.6" fill="none" stroke="#fff" stroke-width="1.1" stroke-linecap="round" stroke-linejoin="round"/></svg>
<div class="t" style="top:162.89px;font-size:12px;line-height:16px;letter-spacing:0.3px;transform:scaleX(0.9041);transform-origin:0 0;left:746.00px;">Heutiges Datum anzeigen</div>
<div class="a" style="left:722.4px;top:191.90px;width:16.2px;height:16.2px;border-radius:2px;background:#0f6cbd"></div>
<svg style="left:722.4px;top:191.89999999999998px;" width="16" height="16" viewBox="0 0 16 16"><path d="M4.2 8.4L6.9 11 12.1 5.6" fill="none" stroke="#fff" stroke-width="1.1" stroke-linecap="round" stroke-linejoin="round"/></svg>
<div class="t" style="top:192.41px;font-size:12px;line-height:16px;letter-spacing:0.3px;transform:scaleX(0.9052);transform-origin:0 0;left:746.00px;">Arbeitsfreie Zeiten hervorheben</div>
<div class="a" style="left:722.4px;top:221.42px;width:16.2px;height:16.2px;border-radius:2px;border:1px solid #616161;background:#fff"></div>
<div class="t" style="top:221.93px;font-size:12px;line-height:16px;letter-spacing:0.3px;transform:scaleX(0.8968);transform-origin:0 0;left:746.00px;">Mehr Zeilen anzeigen</div>
<div class="a" style="left:722.4px;top:250.94px;width:16.2px;height:16.2px;border-radius:2px;background:#0f6cbd"></div>
<svg style="left:722.4px;top:250.94px;" width="16" height="16" viewBox="0 0 16 16"><path d="M4.2 8.4L6.9 11 12.1 5.6" fill="none" stroke="#fff" stroke-width="1.1" stroke-linecap="round" stroke-linejoin="round"/></svg>
<div class="t" style="top:251.45px;font-size:12px;line-height:16px;letter-spacing:0.3px;transform:scaleX(0.8783);transform-origin:0 0;left:746.00px;">Ressourcenauslastung anzeigen</div>
<div class="a" style="left:722.4px;top:280.46px;width:16.2px;height:16.2px;border-radius:2px;background:#0f6cbd"></div>
<svg style="left:722.4px;top:280.46px;" width="16" height="16" viewBox="0 0 16 16"><path d="M4.2 8.4L6.9 11 12.1 5.6" fill="none" stroke="#fff" stroke-width="1.1" stroke-linecap="round" stroke-linejoin="round"/></svg>
<div class="t" style="top:280.97px;font-size:12px;line-height:16px;letter-spacing:0.3px;transform:scaleX(0.9097);transform-origin:0 0;left:746.00px;">Projektübergreifende Verknüpfungen anzeigen</div>
<div class="a" style="left:722.4px;top:309.98px;width:16.2px;height:16.2px;border-radius:2px;border:1px solid #616161;background:#fff"></div>
<div class="t" style="top:310.49px;font-size:12px;line-height:16px;letter-spacing:0.3px;transform:scaleX(0.8794);transform-origin:0 0;left:746.00px;">Zeitachse anzeigen</div>
<div class="a" style="left:722.4px;top:339.50px;width:16.2px;height:16.2px;border-radius:2px;background:#0f6cbd"></div>
<svg style="left:722.4px;top:339.5px;" width="16" height="16" viewBox="0 0 16 16"><path d="M4.2 8.4L6.9 11 12.1 5.6" fill="none" stroke="#fff" stroke-width="1.1" stroke-linecap="round" stroke-linejoin="round"/></svg>
<div class="t" style="top:340.01px;font-size:12px;line-height:16px;letter-spacing:0.3px;transform:scaleX(0.8877);transform-origin:0 0;left:746.00px;">Vollständige Ressourcennamen anzeigen</div>
<div class="t" style="top:369.81px;font-size:12px;line-height:16px;letter-spacing:0.3px;transform:scaleX(0.8749);transform-origin:0 0;left:723.20px;">Größe der Zeitachse</div>
<svg style="left:978.5px;top:372.5px;" width="8" height="10" viewBox="0 0 8 10"><path d="M1 0.8L5.4 4.9 1 9" fill="none" stroke="#616161" stroke-width="1"/></svg>
<div class="a" style="left:717px;top:246px;width:194px;height:27.4px;border:2px solid #d1003f"></div>
<div class="a" style="left:3px;top:376px;width:570px;height:147.5px;border:2px solid #d1003f"></div>
</body></html>
